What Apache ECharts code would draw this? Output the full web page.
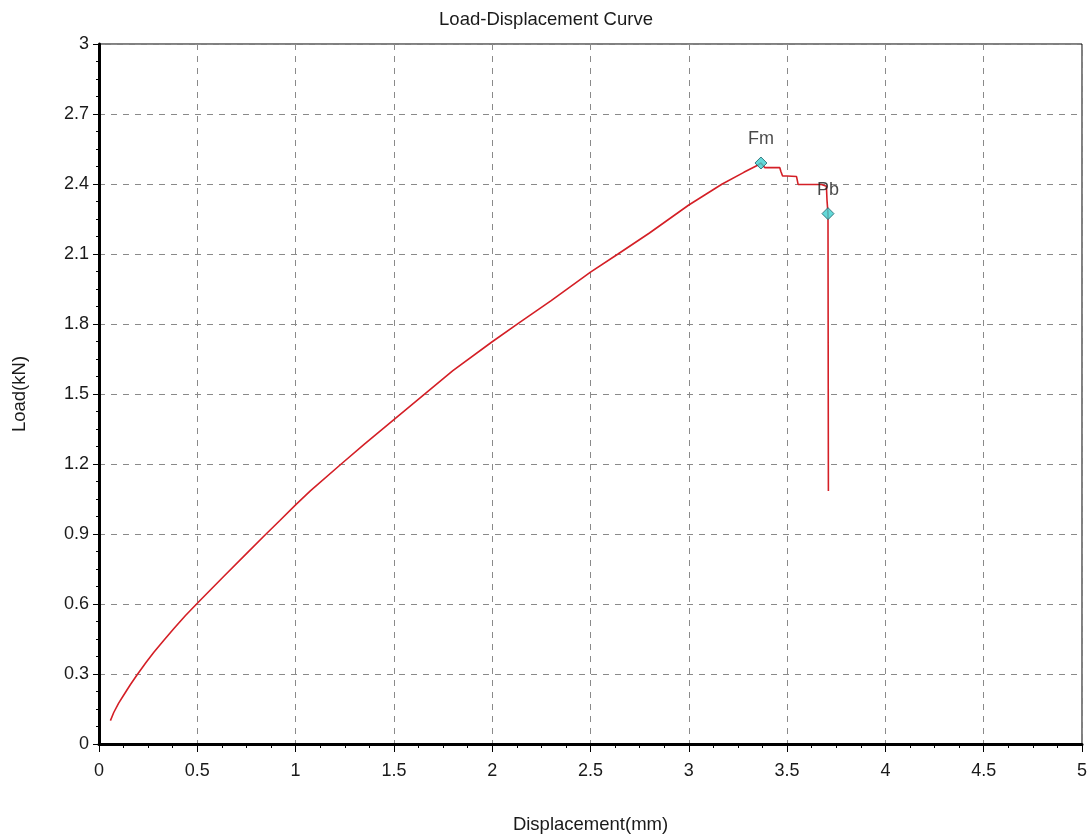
<!DOCTYPE html>
<html>
<head>
<meta charset="utf-8">
<title>Load-Displacement Curve</title>
<script src="https://cdn.jsdelivr.net/npm/echarts@6/dist/echarts.min.js"></script>
<style>
  html, body { margin: 0; padding: 0; background: #ffffff; }
  #chart { width: 1092px; height: 839px; }
</style>
</head>
<body>
<div id="chart"></div>
<script>
// Test record: displacement (mm) and load (kN)
const displacement = [
  0.058, 0.075, 0.10, 0.126, 0.16, 0.194, 0.24, 0.279, 0.33, 0.38, 0.44, 0.51,
  0.634, 0.75, 0.846, 0.92, 1.0, 1.075, 1.232, 1.35, 1.5, 1.65, 1.8, 2.0, 2.14,
  2.3, 2.5, 2.64, 2.8, 3.0, 3.17, 3.28, 3.345, 3.367,
  3.387, 3.463, 3.468, 3.477, 3.50, 3.505, 3.51, 3.548, 3.556, 3.675, 3.70,
  3.703, 3.708, 3.71
];
const load = [
  0.10, 0.135, 0.175, 0.21, 0.255, 0.297, 0.35, 0.393, 0.445, 0.494, 0.551, 0.612,
  0.718, 0.816, 0.897, 0.958, 1.025, 1.085, 1.20, 1.285, 1.39, 1.495, 1.60, 1.724, 1.807,
  1.90, 2.022, 2.10, 2.19, 2.31, 2.40, 2.45, 2.478, 2.49,
  2.470, 2.470, 2.455, 2.434, 2.434, 2.44, 2.432, 2.432, 2.398, 2.398, 2.39,
  2.33, 2.273, 1.084
];

// Characteristic points: maximum force and break
const pointNames = ['Fm', 'Pb'];
const pointDisplacement = [3.367, 3.708];
const pointLoad = [2.49, 2.273];

// Axis ticks
const xTickInterval = 0.5;
const yTickInterval = 0.3;
const xMax = 5;
const yMax = 3;

const fontFamily = '"Liberation Sans", Arial, sans-serif';
const textColor = '#1a1a1a';

const curve = displacement.map((d, i) => [d, load[i]]);
const marks = pointNames.map((n, i) => ({ name: n, value: [pointDisplacement[i], pointLoad[i]] }));

const gridLine = { show: true, lineStyle: { color: '#8a8a8a', type: [6, 6], width: 1 } };

const chart = echarts.init(document.getElementById('chart'), null, { renderer: 'canvas' });
chart.setOption({
  backgroundColor: '#ffffff',
  animation: false,
  title: {
    text: 'Load-Displacement Curve',
    left: 'center',
    top: 5,
    textStyle: { fontFamily, fontSize: 18.5, fontWeight: 'normal', color: textColor }
  },
  grid: {
    left: 99, top: 44, right: 10, bottom: 94,
    show: true, borderColor: '#000', borderWidth: 1, backgroundColor: '#fff'
  },
  xAxis: {
    type: 'value',
    min: 0, max: xMax, interval: xTickInterval,
    name: 'Displacement(mm)',
    nameLocation: 'middle',
    nameGap: 71,
    nameTextStyle: { fontFamily, fontSize: 18.5, color: textColor },
    axisLine: { show: true, onZero: false, lineStyle: { color: '#000', width: 3 } },
    axisTick: { show: true, length: 8, lineStyle: { color: '#000', width: 1 } },
    minorTick: { show: true, splitNumber: 4, length: 4, lineStyle: { color: '#000', width: 1 } },
    axisLabel: { fontFamily, fontSize: 18, color: textColor, margin: 18 },
    splitLine: gridLine
  },
  yAxis: {
    type: 'value',
    min: 0, max: yMax, interval: yTickInterval,
    name: 'Load(kN)',
    nameLocation: 'middle',
    nameGap: 70,
    nameTextStyle: { fontFamily, fontSize: 18.5, color: textColor },
    axisLine: { show: true, onZero: false, lineStyle: { color: '#000', width: 3 } },
    axisTick: { show: true, length: 6, lineStyle: { color: '#000', width: 1 } },
    minorTick: { show: true, splitNumber: 4, length: 3, lineStyle: { color: '#000', width: 1 } },
    axisLabel: {
      fontFamily, fontSize: 18, color: textColor, margin: 10,
      formatter: v => String(Math.round(v * 10) / 10)
    },
    splitLine: gridLine
  },
  series: [
    {
      type: 'line',
      data: curve,
      showSymbol: false,
      symbol: 'none',
      lineStyle: { color: '#d41f26', width: 1.6 },
      z: 2
    },
    {
      type: 'scatter',
      data: marks,
      symbol: 'diamond',
      symbolSize: 12,
      itemStyle: { color: '#3cd0d0', borderColor: '#1b5f66', borderWidth: 1 },
      label: {
        show: true,
        position: 'top',
        distance: 8,
        formatter: p => p.name,
        fontFamily, fontSize: 18, color: textColor
      },
      z: 3
    }
  ]
});
</script>
</body>
</html>
